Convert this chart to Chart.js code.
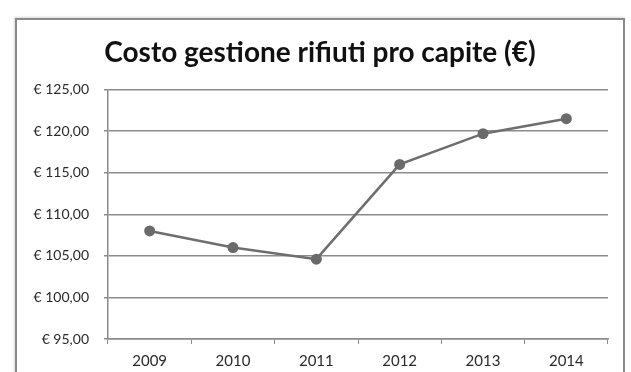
<!DOCTYPE html>
<html>
<head>
<meta charset="utf-8">
<script src="https://cdn.jsdelivr.net/npm/chart.js@4"></script>
<style>
  html, body { margin: 0; padding: 0; background: #fff; }
  #wrap { position: relative; width: 631px; height: 372px; overflow: hidden; }
  #frame {
    position: absolute; left: 15px; top: 18px; width: 606px; height: 380px;
    border: 2px solid #8a8a8a; border-bottom: none;
    box-shadow: -1px -1px 2px #d8d8d8;
  }
  canvas { position: absolute; left: 0; top: 0; }
</style>
</head>
<body>
<div id="wrap">
  <div id="frame"></div>
  <canvas id="chart" width="631" height="372"></canvas>
</div>
<script>
const anni = ['2009', '2010', '2011', '2012', '2013', '2014'];
const costo = [108.0, 106.0, 104.6, 116.0, 119.7, 121.5];
const yMin = 95;
const yMax = 125;
const yStep = 5;

const euro = v => '€ ' + v.toFixed(2).replace('.', ',');

const ctx = document.getElementById('chart').getContext('2d');
new Chart(ctx, {
  type: 'line',
  data: {
    labels: anni,
    datasets: [{
      data: costo,
      borderColor: '#6e6e6e',
      backgroundColor: '#6a6a6a',
      borderWidth: 2.5,
      pointRadius: 5.5,
      pointBorderWidth: 0,
      tension: 0
    }]
  },
  options: {
    responsive: false,
    animation: false,
    // left padding keeps the title centred over the frame
    layout: { padding: { left: 32, right: 23, top: 0, bottom: 0 } },
    plugins: {
      legend: { display: false },
      tooltip: { enabled: false },
      title: {
        display: true,
        text: 'Costo gestione rifiuti pro capite (€)',
        color: '#111',
        font: { family: 'Lato', size: 28, weight: 'bold' },
        padding: { top: 36, bottom: 20 }
      }
    },
    scales: {
      x: {
        offset: true,
        grid: { offset: true, drawOnChartArea: false, drawTicks: true, tickLength: 5, color: '#8a8a8a', lineWidth: 1 },
        border: { display: true, color: '#8a8a8a', width: 1.5 },
        ticks: { color: '#2a2a2a', font: { family: 'Lato', size: 15 }, padding: 8, maxRotation: 0 },
        afterFit: s => { s.height = 33; }
      },
      y: {
        min: yMin,
        max: yMax,
        grid: { color: '#8c8c8c', lineWidth: 1.5, tickLength: 4 },
        border: { display: true, color: '#8a8a8a', width: 1.5 },
        ticks: { stepSize: yStep, color: '#2a2a2a', font: { family: 'Lato', size: 14 }, padding: 15, callback: v => euro(v) },
        afterFit: s => { s.width = 76; }
      }
    }
  }
});
</script>
</body>
</html>
